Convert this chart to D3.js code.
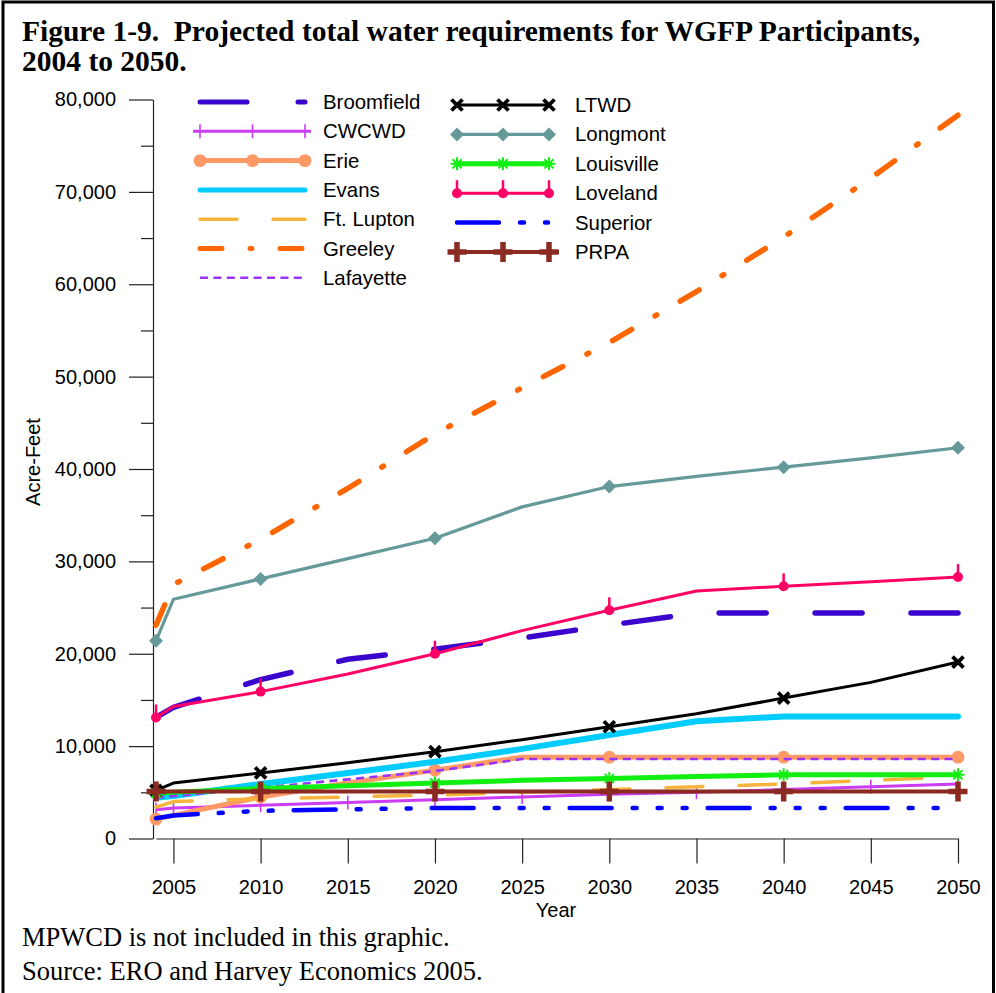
<!DOCTYPE html>
<html><head><meta charset="utf-8">
<script src="https://cdn.jsdelivr.net/npm/d3@7"></script>
<style>
body{margin:0;background:#fff}
svg{display:block}
.sans{font-family:"Liberation Sans",Arial,sans-serif}
.serif{font-family:"Liberation Serif","Times New Roman",serif}
</style>
</head><body>
<svg id="c" width="996" height="993"></svg>
<script>
// ---------- DATA ----------
const years = [2004, 2005, 2010, 2015, 2020, 2025, 2030, 2035, 2040, 2045, 2050];
const markerYears = [2004, 2010, 2020, 2030, 2040, 2050];
const broomfield = [13100, 14200, 17200, 19400, 20500, 21700, 23100, 24400, 24400, 24400, 24400];
const cwcwd      = [3100, 3300, 3600, 3900, 4200, 4500, 4800, 5000, 5300, 5600, 5900];
const erie       = [2100, 2500, 4500, 6000, 7400, 8800, 8800, 8800, 8800, 8800, 8800];
const evans      = [4400, 4600, 5900, 7100, 8300, 9700, 11200, 12700, 13200, 13200, 13200];
const ftLupton   = [3400, 4000, 4300, 4500, 4700, 5000, 5300, 5600, 5900, 6300, 6700];
const greeley    = [23100, 27500, 32400, 37900, 43800, 48800, 53700, 59200, 65100, 71500, 78300];
const lafayette  = [4400, 4600, 5500, 6400, 7300, 8600, 8600, 8600, 8600, 8600, 8600];
const ltwd       = [5200, 6000, 7100, 8200, 9400, 10700, 12100, 13500, 15200, 16900, 19100];
const longmont   = [21400, 25900, 28100, 30300, 32500, 35900, 38100, 39200, 40200, 41200, 42300];
const louisville = [4900, 5000, 5400, 5700, 6000, 6300, 6500, 6700, 6900, 6900, 6900];
const loveland   = [13100, 14300, 15900, 17800, 20000, 22500, 24700, 26800, 27300, 27800, 28300];
const superior   = [2200, 2500, 3000, 3150, 3300, 3300, 3300, 3300, 3300, 3300, 3300];
const prpa       = [5100, 5100, 5100, 5100, 5100, 5100, 5100, 5100, 5100, 5100, 5100];
const yTicks = [0, 10000, 20000, 30000, 40000, 50000, 60000, 70000, 80000];
const yMinorTicks = [5000, 15000, 25000, 35000, 45000, 55000, 65000, 75000];
const xTicks = [2005, 2010, 2015, 2020, 2025, 2030, 2035, 2040, 2045, 2050];
const titleLines = ["Figure 1-9.  Projected total water requirements for WGFP Participants,", "2004 to 2050."];
const footLines = ["MPWCD is not included in this graphic.", "Source: ERO and Harvey Economics 2005."];

// ---------- SERIES STYLE ----------
// fit: dash pattern whose gaps are stretched so the line ends on a full dash
const series = [
  {name:"Broomfield", values:broomfield, color:"#3a05cc", width:5.5, dash:"47,51", fit:[47,51], cap:"round", marker:null, col:0},
  {name:"CWCWD", values:cwcwd, color:"#cc3cf5", width:3, dash:null, marker:"tick", allMarkers:true, col:0},
  {name:"Erie", values:erie, color:"#ff9966", width:5, dash:null, marker:"circle", col:0},
  {name:"Evans", values:evans, color:"#00ccff", width:6, dash:null, cap:"round", marker:null, col:0},
  {name:"Ft. Lupton", values:ftLupton, color:"#f5b43c", width:3.5, dash:"37,36", cap:"round", marker:null, col:0},
  {name:"Greeley", values:greeley, color:"#ff6600", width:5.5, dash:"22,28,2,28", fit:[22,28,2,28], cap:"round", marker:null, col:0},
  {name:"Lafayette", values:lafayette, color:"#9933ff", width:2.6, dash:"8,5.4", marker:null, col:0},
  {name:"LTWD", values:ltwd, color:"#000000", width:3, dash:null, marker:"x", col:1},
  {name:"Longmont", values:longmont, color:"#669999", width:3.2, dash:null, marker:"diamond", col:1},
  {name:"Louisville", values:louisville, color:"#11ee11", width:5, dash:null, marker:"asterisk", col:1},
  {name:"Loveland", values:loveland, color:"#ff0066", width:3, dash:null, marker:"pin", col:1},
  {name:"Superior", values:superior, color:"#0000ff", width:4.5, dash:"42,21,4,21,4,21,4,21", cap:"round", marker:null, col:1},
  {name:"PRPA", values:prpa, color:"#8b2a20", width:4, dash:null, marker:"plus", col:1}
];

const svg = d3.select("#c");

// frame
svg.append("rect").attr("x",3).attr("y",2).attr("width",990.5).attr("height",1000)
  .attr("fill","none").attr("stroke","#000").attr("stroke-width",3);

// title
const tt = svg.append("text").attr("class","serif").attr("font-weight","bold")
  .attr("font-size",29.5).attr("fill","#000").style("white-space","pre");
titleLines.forEach((t,i)=> tt.append("tspan").attr("x",22).attr("y",41+i*30).text(t));

// scales
const x = d3.scaleLinear().domain([2004, 2050]).range([156, 958]);
const y = d3.scaleLinear().domain([0, 80000]).range([838.5, 99.5]);

// axes
const axisColor = "#222";
svg.append("g").attr("class","sans").attr("transform","translate(153,0)")
  .call(d3.axisLeft(y).tickValues(yTicks).tickSize(24).tickSizeOuter(0).tickPadding(13).tickFormat(d3.format(",")));
svg.append("g").attr("transform","translate(153,0)")
  .call(d3.axisLeft(y).tickValues(yMinorTicks).tickSize(12).tickSizeOuter(0).tickFormat(""))
  .call(g=>g.select(".domain").remove());
svg.append("g").attr("class","sans").attr("transform","translate(0,838.5)")
  .call(d3.axisBottom(x).tickValues(xTicks).tickSize(25).tickSizeOuter(0).tickPadding(16).tickFormat(d3.format("d")));
svg.selectAll(".domain, .tick line").attr("stroke",axisColor).attr("stroke-width",1.2);
svg.selectAll(".tick text").attr("font-size",20).attr("fill","#000").attr("font-family",'"Liberation Sans",Arial,sans-serif');

// axis titles
svg.append("text").attr("class","sans").attr("font-size",20).attr("text-anchor","middle")
  .attr("x",556).attr("y",917).text("Year");
svg.append("text").attr("class","sans").attr("font-size",20).attr("text-anchor","middle")
  .attr("transform","translate(40,462) rotate(-90)").text("Acre-Feet");

// footer
footLines.forEach((t,i)=> svg.append("text").attr("class","serif").attr("font-size",26.5)
  .attr("x",22).attr("y",946+i*34).text(t));

// markers
function drawMarker(g, type, cx, cy, color){
  switch(type){
    case "tick":
      g.append("line").attr("x1",cx).attr("x2",cx).attr("y1",cy-7).attr("y2",cy+7)
        .attr("stroke",color).attr("stroke-width",1.6); break;
    case "circle":
      g.append("circle").attr("cx",cx).attr("cy",cy).attr("r",6.4).attr("fill",color); break;
    case "x":
      g.append("path").attr("d",`M${cx-5.5},${cy-5.5}L${cx+5.5},${cy+5.5}M${cx-5.5},${cy+5.5}L${cx+5.5},${cy-5.5}`)
        .attr("stroke",color).attr("stroke-width",3.8).attr("fill","none"); break;
    case "diamond":
      g.append("path").attr("d",`M${cx},${cy-7}L${cx+7},${cy}L${cx},${cy+7}L${cx-7},${cy}Z`).attr("fill",color); break;
    case "asterisk":
      g.append("path").attr("d",`M${cx-6.5},${cy}L${cx+6.5},${cy}M${cx},${cy-6.5}L${cx},${cy+6.5}M${cx-4.6},${cy-4.6}L${cx+4.6},${cy+4.6}M${cx-4.6},${cy+4.6}L${cx+4.6},${cy-4.6}`)
        .attr("stroke",color).attr("stroke-width",2).attr("fill","none"); break;
    case "pin":
      g.append("line").attr("x1",cx).attr("x2",cx).attr("y1",cy).attr("y2",cy-13)
        .attr("stroke",color).attr("stroke-width",2.5);
      g.append("circle").attr("cx",cx).attr("cy",cy).attr("r",5).attr("fill",color); break;
    case "plus":
      g.append("path").attr("d",`M${cx-9.5},${cy}L${cx+9.5},${cy}M${cx},${cy-10}L${cx},${cy+10}`)
        .attr("stroke",color).attr("stroke-width",5.5).attr("fill","none"); break;
  }
}

// plot lines
const line = d3.line().x((d,i)=>x(years[i])).y(d=>y(d));
const plot = svg.append("g");
series.forEach(s=>{
  const g = plot.append("g");
  const p = g.append("path").attr("d", line(s.values)).attr("fill","none")
    .attr("stroke", s.color).attr("stroke-width", s.width).attr("stroke-linejoin","round")
    .attr("stroke-linecap", s.cap || "butt");
  if (s.dash) p.attr("stroke-dasharray", s.dash);
  if (s.fit){
    // stretch the gaps so that a whole number of periods plus one dash fills the line
    const L = p.node().getTotalLength();
    const arr = s.fit;
    const period = arr.reduce((a,b)=>a+b,0);
    const dashSum = arr.reduce((a,b,i)=>a + (i%2===0 ? b : 0),0);
    const gapSum = period - dashSum;
    const n = Math.max(1, Math.round((L - arr[0]) / period));
    const per = (L - arr[0]) / n;
    const k = (per - dashSum) / gapSum;
    p.attr("stroke-dasharray", arr.map((v,i)=> i%2===1 ? v*k : v).join(","));
  }
  if (s.marker){
    years.forEach((yr,i)=>{
      if (s.allMarkers || markerYears.includes(yr)) drawMarker(g, s.marker, x(yr), y(s.values[i]), s.color);
    });
  }
});

// legend
const leg = svg.append("g");
const cols = [
  {x1:200, x2:305, mx:[200,252.5,305], tx:323, y0:102, dy:29.3},
  {x1:457, x2:549, mx:[457,503,549], tx:575, y0:105, dy:29.4}
];
const colCount = [0,0];
series.forEach(s=>{
  const c = cols[s.col];
  const cy = c.y0 + c.dy * colCount[s.col]++;
  const g = leg.append("g");
  let x1 = c.x1, x2 = c.x2;
  if (s.name==="CWCWD"){ x1 = 193; x2 = 311; }
  if (s.name==="Superior"){ x1 = 457; x2 = 548; }
  if (s.name==="PRPA"){ x1 = 448; x2 = 559; }
  const ln = g.append("line").attr("x1",x1).attr("x2",x2).attr("y1",cy).attr("y2",cy)
    .attr("stroke",s.color).attr("stroke-width",Math.min(s.width,5)).attr("stroke-linecap", s.cap || "butt");
  if (s.dash) ln.attr("stroke-dasharray", s.dash);
  if (s.marker) c.mx.forEach(mx=>drawMarker(g, s.marker, mx, cy, s.color));
  g.append("text").attr("class","sans").attr("font-size",20.4).attr("x",c.tx).attr("y",cy+7).text(s.name);
});
</script>
</body></html>
